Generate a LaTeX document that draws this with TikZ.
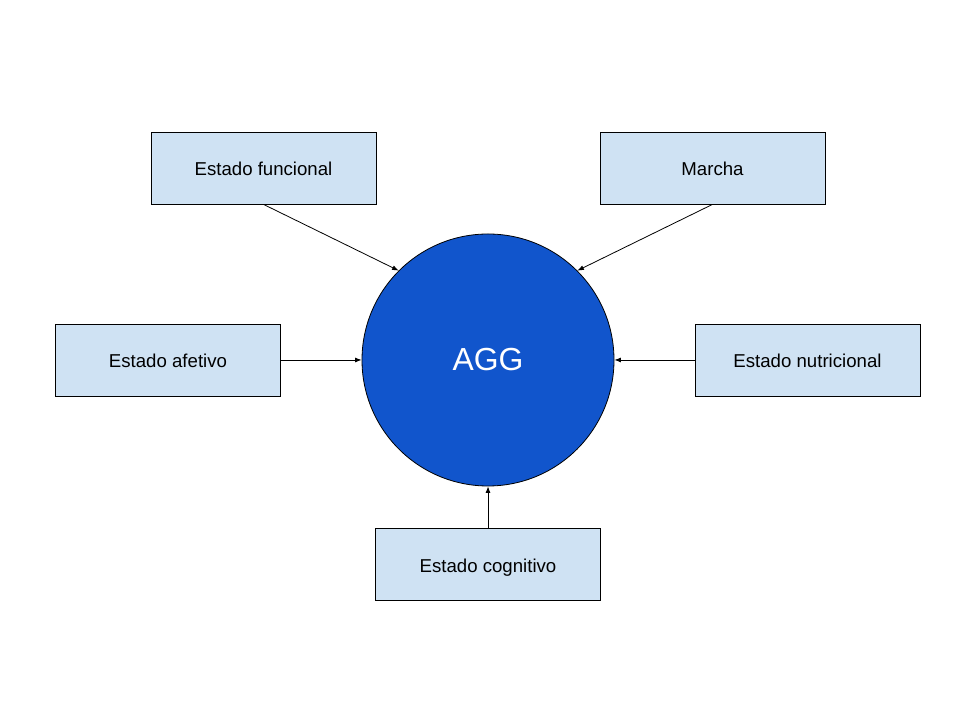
\documentclass[tikz,border=0pt]{standalone}
\usepackage{fontspec}
\setmainfont{Liberation Sans}
\usetikzlibrary{arrows.meta, positioning}
\definecolor{boxblue}{HTML}{CFE2F3}
\definecolor{hubblue}{HTML}{1155CC}

\begin{document}
\begin{tikzpicture}[x=1bp,y=1bp,
		box/.style={draw=black, fill=boxblue, line width=0.8bp, minimum width=225bp, minimum height=72bp, inner sep=0pt, text height=16bp, text depth=0bp, font=\fontsize{18.7}{22}\selectfont},
		hub/.style={circle, draw=black, fill=hubblue, line width=0.8bp, minimum size=252bp, inner sep=0pt, text=white, font=\fontsize{32}{38}\selectfont},
		feed/.style={-{Latex[length=6.5bp,width=5bp]}, line width=0.8bp}]
			\useasboundingbox (0,0) rectangle (960,720);
			
			% Zentrum
			\node[hub] (agg) at (488,360) {AGG};
			
			% Dimensionen
			\node[box] (funcional) at (263.5,552) {Estado funcional};
			\node[box] (marcha) at (712.5,552) {Marcha};
			\node[box] (afetivo) at (168,360) {Estado afetivo};
			\node[box] (nutricional) at (807.5,360) {Estado nutricional};
			\node[box] (cognitivo) at (488,155.5) {Estado cognitivo};
			
			% Pfeile
			\draw[feed] (funcional.south) -- (agg.135);
			\draw[feed] (marcha.south) -- (agg.45);
			\draw[feed] (afetivo.east) -- (agg.west);
			\draw[feed] (nutricional.west) -- (agg.east);
			\draw[feed] (cognitivo.north) -- (agg.south);
		\end{tikzpicture}
\end{document}
